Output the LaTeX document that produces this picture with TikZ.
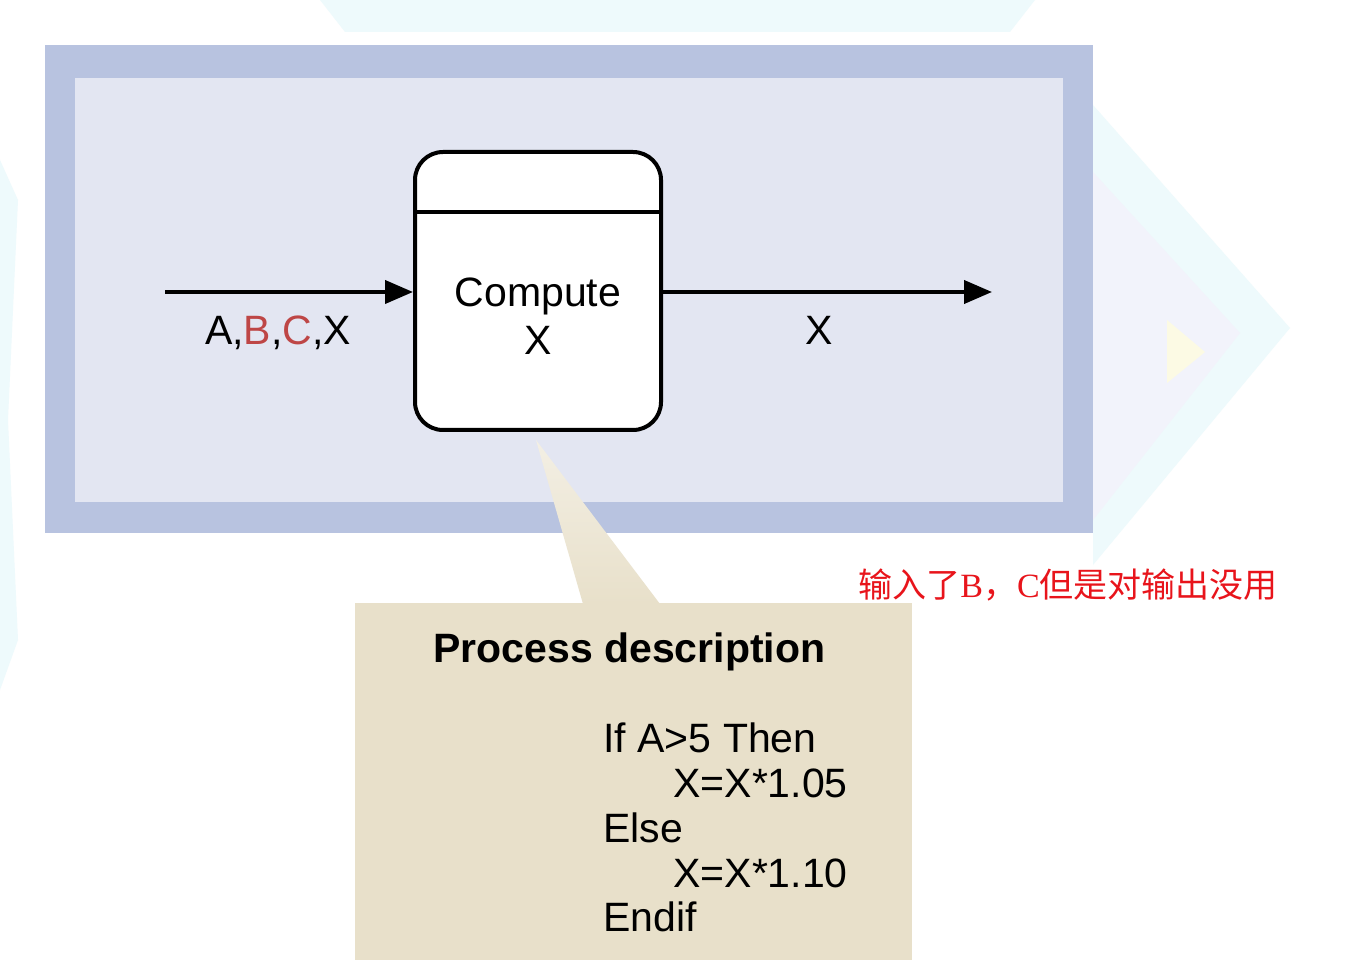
\documentclass[tikz,border=0pt]{standalone}
\usepackage{fontspec}
\setmainfont{Liberation Sans}
\newfontfamily\cjk{Noto Sans CJK SC}
\newfontfamily\serifrm{Liberation Serif}
\usetikzlibrary{arrows.meta}
\definecolor{frameblue}{HTML}{B8C3E0}
\definecolor{panelblue}{HTML}{E3E6F2}
\definecolor{calltan}{HTML}{E8E0CA}
\definecolor{calltanlight}{HTML}{F3EFE4}
\definecolor{labelred}{HTML}{BE4646}
\definecolor{notered}{HTML}{E8141B}
\definecolor{decocyan}{HTML}{EEFAFC}
\definecolor{decolav}{HTML}{F2F3FB}
\definecolor{decoyellow}{HTML}{FCFAE4}
\begin{document}
\begin{tikzpicture}[x=0.5pt,y=-0.5pt,
  lbl/.style={inner sep=0pt, font=\fontsize{20.5}{24}\selectfont},
  boldlbl/.style={inner sep=0pt, font=\fontsize{20.5}{24}\selectfont\bfseries},
  procbox/.style={draw=black, line width=2pt, fill=white, rounded corners=14pt,
    minimum width=123pt, minimum height=139pt, inner sep=0pt},
  flow/.style={line width=2pt, -{Triangle[length=14pt,width=11.5pt]}},
  note/.style={inner sep=0pt, text=notered, font=\fontsize{17}{20}\selectfont\cjk}]
\useasboundingbox (0,0) rectangle (1358,972);
\fill[white] (0,0) rectangle (1358,972);
% faint slide background decorations
\fill[decocyan] (320,0) -- (1035,0) -- (1010,32) -- (345,32) -- cycle;
\fill[decocyan] (0,160) -- (18,200) -- (8,420) -- (18,640) -- (0,690) -- cycle;
\fill[decocyan] (1093,105) -- (1290,328) -- (1093,565) -- cycle;
\fill[decolav] (1093,172) -- (1240,333) -- (1093,520) -- cycle;
\fill[decoyellow] (1167,320) -- (1205,352) -- (1167,383) -- cycle;
% frame and panel
\fill[frameblue] (45,45) rectangle (1093,533);
\fill[panelblue] (75,78) rectangle (1063,502);
% callout
\shade[top color=calltanlight, bottom color=calltan] (536,440) -- (583,604) -- (660,604) -- cycle;
\fill[calltan] (355,603) rectangle (912,960);
% process box
\node[procbox] (proc) at (538,291) {};
\draw[line width=2pt] (proc.west |- 0,212) -- (proc.east |- 0,212);
\node[lbl, anchor=base] (comp) at (538,307) {Compute};
\node[lbl, anchor=base] (compx) at (538,355) {X};
% flows
\coordinate (src) at (165,292);
\coordinate (dst) at (992,292);
\draw[flow] (src) -- (src -| proc.west);
\draw[flow] (proc.east |- dst) -- (dst);
\node[lbl, anchor=base] (inlbl) at (278,345) {A,\textcolor{labelred}{B},\textcolor{labelred}{C},X};
\node[lbl, anchor=base] (outlbl) at (819,345) {X};
% callout text
\node[boldlbl, anchor=base west] (ptitle) at (433,662) {Process description};
\node[lbl, anchor=base west] (l1) at (603,752) {If A>5 Then};
\node[lbl, anchor=base west] (l2) at (673,797) {X=X*1.05};
\node[lbl, anchor=base west] (l3) at (603,842) {Else};
\node[lbl, anchor=base west] (l4) at (673,887) {X=X*1.10};
\node[lbl, anchor=base west] (l5) at (603,931) {Endif};
% annotation
\node[note, anchor=base west] (ann) at (858,597) {输入了{\serifrm B}，{\serifrm C}但是对输出没用};
\end{tikzpicture}
\end{document}
